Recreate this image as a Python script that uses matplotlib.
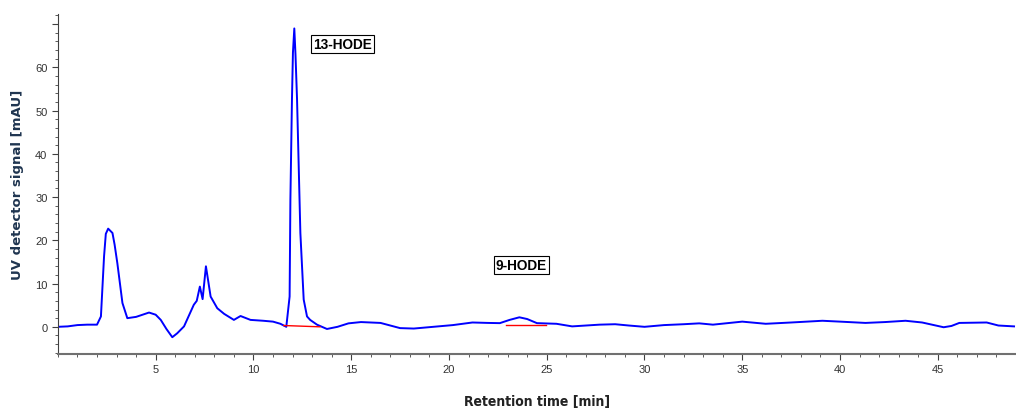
import matplotlib
matplotlib.use("Agg")
from matplotlib import pyplot as plt
from matplotlib.ticker import MultipleLocator

# chromatogram (min, mAU)
time_min = [0.0, 0.5, 1.0, 1.5, 2.0, 2.2, 2.36, 2.45, 2.57, 2.79, 2.9, 3.04, 3.3, 3.55,
            4.0, 4.66, 5.0, 5.26, 5.55, 5.85, 6.1, 6.45, 6.95, 7.1, 7.26, 7.40, 7.57,
            7.81, 8.15, 8.5, 9.0, 9.34, 9.85, 10.5, 11.0, 11.38, 11.68, 11.85, 11.89,
            11.97, 12.02, 12.09, 12.15, 12.23, 12.4, 12.57, 12.74, 12.9, 13.25, 13.76,
            14.3, 14.86, 15.5, 16.5, 17.5, 18.2, 19.2, 20.2, 21.2, 22.0, 22.6, 23.1,
            23.6, 24.0, 24.5, 25.5, 26.3, 27.7, 28.5, 29.2, 30.0, 31.0, 32.0, 32.8,
            33.5, 35.0, 36.2, 37.5, 39.1, 40.0, 41.3, 42.3, 43.35, 44.2, 44.8, 45.3,
            45.7, 46.1, 47.5, 48.1, 48.9]
signal = [0.0, 0.1, 0.4, 0.5, 0.5, 2.4, 16.3, 21.5, 22.7, 21.7, 19.0, 14.7, 5.5, 2.0,
          2.3, 3.3, 2.8, 1.6, -0.5, -2.4, -1.5, 0.1, 5.1, 6.0, 9.3, 6.4, 14.0,
          7.0, 4.3, 3.0, 1.6, 2.5, 1.6, 1.4, 1.2, 0.7, 0.0, 7.0, 29.4,
          52.6, 63.4, 69.0, 63.0, 52.6, 21.7, 6.3, 2.4, 1.6, 0.5, -0.5,
          0.0, 0.8, 1.1, 0.9, -0.3, -0.4, 0.0, 0.4, 1.0, 0.9, 0.85, 1.6,
          2.2, 1.8, 0.85, 0.7, 0.1, 0.5, 0.6, 0.3, 0.0, 0.4, 0.6, 0.8,
          0.5, 1.2, 0.7, 1.0, 1.4, 1.2, 0.9, 1.1, 1.4, 1.0, 0.4, -0.1,
          0.2, 0.9, 1.0, 0.3, 0.1]

# integration baselines (red)
base13_t = [11.55, 13.4]
base13_y = [0.3, 0.0]
base9_t = [22.9, 24.95]
base9_y = [0.45, 0.45]

peak_names = ["13-HODE", "9-HODE"]
label_t = [13.05, 22.4]
label_y = [65.5, 14.4]

fig = plt.figure(figsize=(10.16, 4.10), dpi=100)
ax = fig.add_axes([0.057, 0.134, 0.943, 0.829])

ax.plot(time_min, signal, color="#0000ff", lw=1.4)
ax.plot(base13_t, base13_y, color="red", lw=1)
ax.plot(base9_t, base9_y, color="red", lw=1)

for name, t, y in zip(peak_names, label_t, label_y):
    ax.text(t, y, name, ha="left", va="center", fontsize=9.8, fontweight="bold",
            family="Liberation Sans",
            bbox=dict(boxstyle="square,pad=0.15", fc="white", ec="black", lw=0.8))

ax.set_xlim(0, 49)
ax.set_ylim(-6.3, 72.3)
ax.set_xticks([5, 10, 15, 20, 25, 30, 35, 40, 45])
ax.xaxis.set_minor_locator(MultipleLocator(1))
ax.set_yticks([0, 10, 20, 30, 40, 50, 60, 70])
ax.set_yticklabels(["0", "10", "20", "30", "40", "50", "60", ""])
ax.yaxis.set_minor_locator(MultipleLocator(2))

for s in ["top", "right"]:
    ax.spines[s].set_visible(False)
ax.spines["left"].set_color("#404040")
ax.spines["bottom"].set_color("#707070")
ax.spines["bottom"].set_linewidth(1.5)
ax.tick_params(which="major", length=4, color="#404040", labelsize=8, labelcolor="#333333")
ax.tick_params(which="minor", length=2.5, color="#404040")
for lb in ax.get_xticklabels() + ax.get_yticklabels():
    lb.set_family("Liberation Sans")

ax.set_xlabel("Retention time [min]", fontsize=10, fontweight="bold",
              fontstretch="condensed", color="#222222", labelpad=14)
ax.set_ylabel("UV detector signal [mAU]", fontsize=9.5, fontweight="bold",
              color="#1f3550", labelpad=8)

fig.savefig("out.png", dpi=100)
